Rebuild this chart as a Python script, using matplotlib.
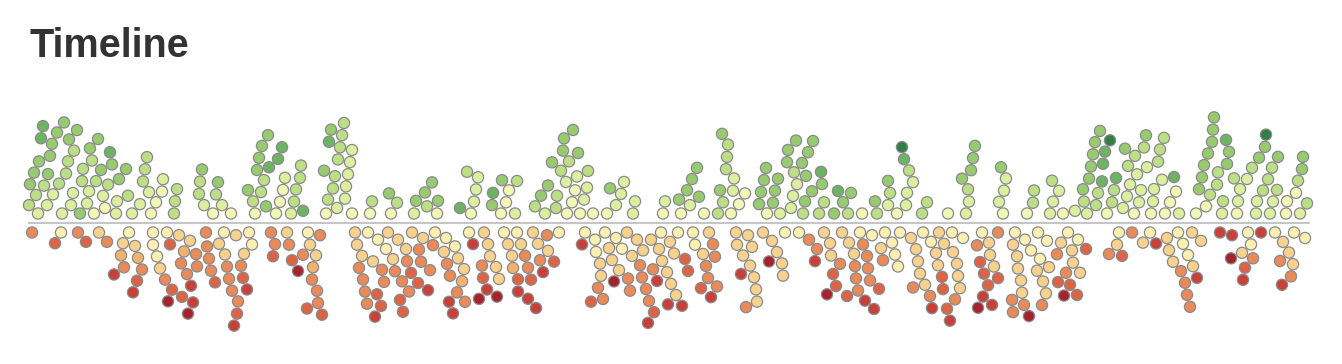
import numpy as np
import matplotlib
matplotlib.use('Agg')
import matplotlib.pyplot as plt
from matplotlib.patches import Circle
from matplotlib.collections import PatchCollection
from matplotlib.colors import ListedColormap, BoundaryNorm

# minute of each message along the strip, and its sentiment bucket
# positive buckets: 1 (barely positive) .. 6 (very positive)
pos_minute = [
    43, 41, 57, 69, 80, 98, 110, 34, 50, 74, 90, 101, 39, 52, 64, 82, 96, 112, 30, 48, 68, 83,
    59, 92, 108, 119, 77, 29, 44, 66, 87, 103, 126, 36, 47, 62, 73, 89, 105, 116, 128, 140,
    38, 53, 71, 94, 117, 132, 143, 145, 147, 149, 151, 156, 163, 162, 177, 174, 175,
    202, 200, 218, 199, 216, 204, 222, 213, 231,
    262, 268, 259, 278, 257, 269, 282, 301, 264, 285, 296, 248, 261, 276, 291, 300, 303, 253,
    266, 280, 294, 255, 283,
    335, 338, 344, 329, 342, 352, 331, 346, 333, 348, 324, 337, 350, 328, 345, 326, 340, 352,
    372, 370, 389, 397, 391, 432, 425, 416, 427, 438, 414, 437,
    467, 476, 474, 460, 478, 471,
    502, 517, 515, 493, 506, 492, 509, 501,
    573, 564, 563, 569, 578, 552, 567, 556, 577, 588, 557, 575, 587, 541, 566, 548, 584, 535,
    572, 545, 561, 580, 593,
    610, 624, 621, 633, 616, 607, 635, 665, 663,
    679, 692, 687, 697, 699, 690, 681, 704,
    728, 723, 727, 726, 733, 722, 734, 720, 731, 745, 718, 739,
    761, 773, 766, 778, 764, 775, 759, 788, 802, 787, 805, 796, 821, 808, 822, 794, 813, 791,
    803, 797, 812, 824, 767, 780, 793, 806, 819,
    838, 851, 843, 834, 848, 862,
    902, 904, 888, 909, 890, 906, 877, 888, 907, 922, 875, 897, 913, 927,
    948, 973, 975, 962, 971, 968, 969, 966,
    1001, 999, 1004, 1006, 1003,
    1033, 1034, 1027, 1052, 1050, 1059, 1053, 1063, 1075, 1083, 1084, 1087,
    1095, 1110, 1105, 1093, 1103, 1089, 1102, 1091, 1096, 1100, 1098, 1107,
    1116, 1114, 1112, 1125, 1128, 1123, 1130, 1127, 1134,
    1135, 1146, 1144, 1141, 1147, 1137, 1139, 1151,
    1160, 1158, 1154, 1164, 1174, 1153, 1162, 1176, 1170, 1165, 1179,
    1214, 1226, 1213, 1202, 1227, 1208, 1229, 1210, 1234, 1218, 1199, 1238, 1252, 1204, 1217,
    1247, 1212, 1223, 1240, 1256, 1196, 1206, 1222, 1237, 1257,
    1266, 1265, 1259, 1278, 1263, 1277, 1270, 1268, 1272, 1273,
    1302, 1303, 1298, 1307, 1286, 1300, 1287, 1296,
]
pos_level = [
    5, 5, 4, 4, 4, 4, 5, 4, 4, 3, 4, 4, 4, 4, 4, 3, 3, 4, 4, 4, 3, 3,
    3, 3, 3, 4, 4, 3, 3, 3, 2, 2, 4, 3, 2, 2, 2, 2, 1, 2, 3, 2,
    2, 2, 2, 1, 2, 2, 3, 3, 3, 2, 1, 1, 2, 1, 3, 3, 3,
    4, 3, 4, 3, 3, 2, 2, 1, 1,
    4, 4, 4, 5, 4, 5, 5, 3, 3, 2, 3, 4, 3, 1, 2, 3, 5, 3,
    4, 1, 3, 1, 1,
    3, 3, 3, 5, 3, 2, 4, 2, 3, 2, 4, 2, 2, 3, 2, 1, 3, 1,
    3, 1, 4, 3, 1, 4, 4, 4, 3, 4, 2, 1,
    3, 2, 2, 5, 2, 1,
    4, 3, 2, 5, 1, 4, 1, 1,
    4, 4, 4, 3, 4, 4, 1, 3, 2, 3, 3, 1, 2, 4, 2, 4, 2, 3,
    1, 2, 3, 1, 1,
    4, 2, 2, 2, 2, 1, 2, 2, 1,
    4, 4, 4, 4, 4, 2, 1, 1,
    3, 3, 3, 3, 2, 4, 2, 4, 1, 1, 3, 1,
    4, 4, 4, 4, 4, 4, 4, 4, 4, 4, 4, 4, 5, 4, 4, 3, 4, 2,
    3, 2, 4, 3, 1, 2, 2, 4, 3,
    5, 4, 4, 4, 3, 1,
    6, 5, 4, 3, 3, 2, 3, 2, 2, 3, 4, 1, 2, 3,
    1, 4, 4, 4, 4, 3, 2, 2,
    4, 2, 2, 2, 1,
    3, 3, 1, 3, 2, 2, 2, 1, 2, 4, 3, 2,
    4, 6, 5, 4, 5, 4, 5, 4, 3, 4, 3, 1,
    5, 3, 3, 4, 3, 2, 2, 2, 1,
    3, 4, 3, 2, 2, 2, 2, 1,
    3, 3, 2, 3, 5, 2, 2, 1, 1, 1, 2,
    4, 5, 4, 4, 4, 4, 4, 3, 3, 3, 4, 2, 3, 4, 3,
    2, 4, 3, 2, 2, 1, 1, 2, 1, 2,
    6, 4, 4, 4, 3, 3, 2, 3, 3, 2,
    4, 4, 3, 3, 1, 2, 1, 1,
]

# negative buckets: -1 (barely negative) .. -7 (very negative)
neg_minute = [
    32, 61, 55, 78, 86, 99, 114, 107, 129, 123, 135, 121, 138, 124, 142, 137, 133, 153, 167, 179,
    153, 172, 157, 170, 160, 165, 168, 190, 184, 187, 196, 181, 197, 182, 193, 191, 188,
    211, 224, 236, 249, 206, 225, 237, 252, 207, 219, 244, 229, 209, 238, 215, 227, 241, 232,
    243, 234, 247,
    271, 287, 275, 289, 273, 292,
    308, 322, 316, 310, 313, 318, 303, 298, 317, 312, 307, 320,
    355, 357, 368, 393, 423, 446, 469, 490, 504,
    378, 373, 386, 398, 412, 435, 455, 421, 430, 458, 473, 488, 508, 517,
    362, 375, 388, 406, 419,
    363, 382, 395, 407, 418, 444, 464, 496, 499, 512, 482, 513,
    367, 384, 402, 433, 450, 462, 483, 497,
    359, 381, 409, 428, 447, 465, 487,
    365, 377, 400, 457, 479,
    403, 411, 453, 449, 518, 518, 484,
    521, 533, 538, 548, 559, 528, 547, 525, 540, 554, 531, 543, 536, 528,
    582, 585, 596, 605, 595, 609, 601, 619, 612, 627, 600, 614, 591, 628, 603, 598,
    616, 622, 632, 637, 643, 651, 661, 671, 659, 678, 649, 662, 674, 642, 653, 670, 676, 640,
    654, 667, 682, 630, 646, 668, 657, 648,
    693, 709, 695, 713, 688, 703, 717, 708, 715, 685, 706, 701, 711,
    736, 754, 737, 757, 777, 785, 799, 752, 772, 783, 743, 763, 782, 750, 769, 741, 756, 748, 746,
    824, 817, 831, 809, 842, 815, 830, 833, 827, 840, 836,
    849, 860, 872, 885, 900, 916, 931, 952, 963, 982,
    854, 867, 881, 892, 911, 923, 939, 957, 977, 990,
    855, 870, 883, 895, 920, 936, 953, 989,
    847, 863, 879, 898, 925, 938, 960, 980, 994,
    858, 918, 944, 978, 988, 998,
    868, 856, 874, 913, 930, 958, 955,
    865, 942, 984, 998, 932, 947, 992, 983, 943, 950,
    1015, 1025, 1047, 1068, 1078, 1017, 1031, 1049, 1061, 1080,
    1013, 1022, 1040, 1038, 1057, 1058, 1073, 1086,
    1018, 1046, 1072, 1066, 1013, 1021, 1043, 1037, 1077,
    1012, 1024, 1029, 1042, 1070, 1064,
    1119, 1132, 1150, 1167, 1117, 1143, 1156, 1109, 1122,
    1183, 1201, 1220, 1232, 1248, 1261, 1275, 1305,
    1188, 1178, 1231, 1251, 1193, 1242, 1253, 1173, 1192, 1169, 1245, 1190, 1243, 1181, 1197,
    1185, 1187,
    1283, 1294, 1289, 1280, 1293, 1291, 1282,
]
neg_level = [
    -4, -1, -5, -4, -5, -2, -6, -4, -1, -2, -2, -3, -3, -4, -4, -5, -6, -1, -1, -2,
    -1, -5, -1, -5, -2, -4, -7, -2, -3, -4, -4, -4, -4, -5, -6, -6, -7,
    -4, -1, -2, -1, -4, -2, -5, -1, -4, -2, -2, -4, -4, -4, -5, -4, -4, -4,
    -5, -6, -6,
    -4, -2, -4, -4, -5, -5,
    -1, -5, -2, -2, -3, -4, -4, -7, -4, -4, -5, -4,
    -2, -2, -1, -2, -2, -1, -1, -2, -1,
    -1, -2, -1, -2, -2, -1, -1, -4, -4, -2, -6, -2, -2, -1,
    -2, -6, -2, -2, -4,
    -4, -4, -4, -4, -5, -2, -2, -2, -2, -2, -4, -3,
    -4, -4, -4, -4, -4, -3, -5, -7,
    -4, -5, -4, -6, -4, -4, -6,
    -4, -5, -5, -4, -7,
    -5, -5, -6, -6, -5, -6, -2,
    -2, -2, -2, -2, -1, -4, -4, -4, -4, -5, -5, -6, -6, -6,
    -6, -1, -1, -1, -1, -2, -2, -2, -2, -2, -2, -7, -5, -4, -4, -4,
    -1, -1, -2, -2, -2, -2, -1, -2, -2, -1, -4, -2, -2, -4, -4, -2, -2, -4,
    -5, -2, -6, -4, -4, -6, -6, -6,
    -1, -2, -1, -4, -5, -2, -4, -4, -4, -5, -4, -5, -6,
    -2, -2, -2, -2, -2, -1, -1, -2, -2, -2, -2, -2, -2, -2, -7, -6, -2, -2, -4,
    -2, -4, -2, -4, -2, -6, -2, -5, -7, -4, -5,
    -2, -1, -1, -1, -1, -2, -1, -1, -1, -1,
    -2, -4, -2, -1, -2, -1, -2, -2, -4, -2,
    -4, -4, -4, -1, -2, -2, -2, -2,
    -5, -4, -5, -1, -2, -2, -2, -5, -2,
    -4, -2, -2, -7, -5, -4,
    -4, -4, -6, -4, -4, -2, -4,
    -6, -5, -5, -5, -6, -5, -6, -6, -5, -6,
    -1, -1, -1, -1, -1, -2, -1, -2, -2, -2,
    -2, -2, -1, -1, -4, -5, -2, -5,
    -2, -2, -2, -4, -4, -2, -2, -2, -5,
    -4, -4, -7, -4, -5, -7,
    -1, -4, -1, -2, -2, -2, -6, -4, -5,
    -1, -2, -6, -6, -1, -6, -1, -1,
    -1, -1, -7, -1, -2, -2, -4, -2, -2, -2, -5, -4, -6, -4, -6,
    -4, -4,
    -2, -1, -2, -4, -2, -4, -6,
]

# one colour per bucket, -7 .. -1 then 1 .. 6
bucket_colors = ['#a6222c', '#c8403a', '#dc6446', '#e88a5a', '#f1b16f', '#f7d18e', '#fbf0b1',
                 '#f2f6b6', '#dceea0', '#bcdf86', '#98cb70', '#6cb463', '#2f7f47']
bounds = [-7.5, -6.5, -5.5, -4.5, -3.5, -2.5, -1.5, -0.5, 1.5, 2.5, 3.5, 4.5, 5.5, 6.5]
cmap = ListedColormap(bucket_colors)
norm = BoundaryNorm(bounds, cmap.N)

W, H = 1342, 364
LINE_Y = 223      # pixel row of the timeline
DIAM = 12.3       # spacing between touching dots
RADIUS = 5.6
BASE = 9.5        # gap from the line to the first row of dots
SPAN = (28, 1310)


def dodge(xs, levels):
    # place dots one by one, weakest sentiment nearest the line
    xs = np.asarray(xs, dtype=float)
    order = sorted(range(len(xs)), key=lambda i: (abs(levels[i]), xs[i]))
    px, py = [], []
    ys = np.zeros(len(xs))
    for i in order:
        x = xs[i]
        cands = [BASE]
        for qx, qy in zip(px, py):
            dx = abs(x - qx)
            if dx < DIAM:
                cands.append(qy + np.sqrt(DIAM ** 2 - dx ** 2))
        cands.sort()
        ax_ = np.array(px)
        ay_ = np.array(py)
        y = cands[-1]
        for c in cands:
            if len(px) == 0 or np.all((ax_ - x) ** 2 + (ay_ - c) ** 2 >= DIAM ** 2 - 1e-6):
                y = c
                break
        px.append(x)
        py.append(y)
        ys[i] = y
    return xs, ys


fig = plt.figure(figsize=(W / 100, H / 100), dpi=100)
ax = fig.add_axes([0, 0, 1, 1])
ax.set_xlim(0, W)
ax.set_ylim(-(H - LINE_Y), LINE_Y)
ax.set_aspect('equal')
ax.axis('off')

ax.plot(SPAN, [0, 0], color='#c6c6c6', lw=1.5, solid_capstyle='butt', zorder=1)

for minutes, levels, sign in [(pos_minute, pos_level, 1), (neg_minute, neg_level, -1)]:
    xs, ys = dodge(minutes, levels)
    circles = [Circle((x, sign * y), RADIUS) for x, y in zip(xs, ys)]
    pc = PatchCollection(circles, cmap=cmap, norm=norm, edgecolor='#8a8a8a',
                         linewidth=0.9, zorder=2)
    pc.set_array(np.array(levels))
    ax.add_collection(pc)

fig.text(29 / W, 1 - 57 / H, 'Timeline', fontsize=28.5, fontweight='bold',
         family=['Liberation Sans', 'DejaVu Sans'], color='#333333', va='baseline', ha='left')

fig.savefig('out.png', dpi=100)
